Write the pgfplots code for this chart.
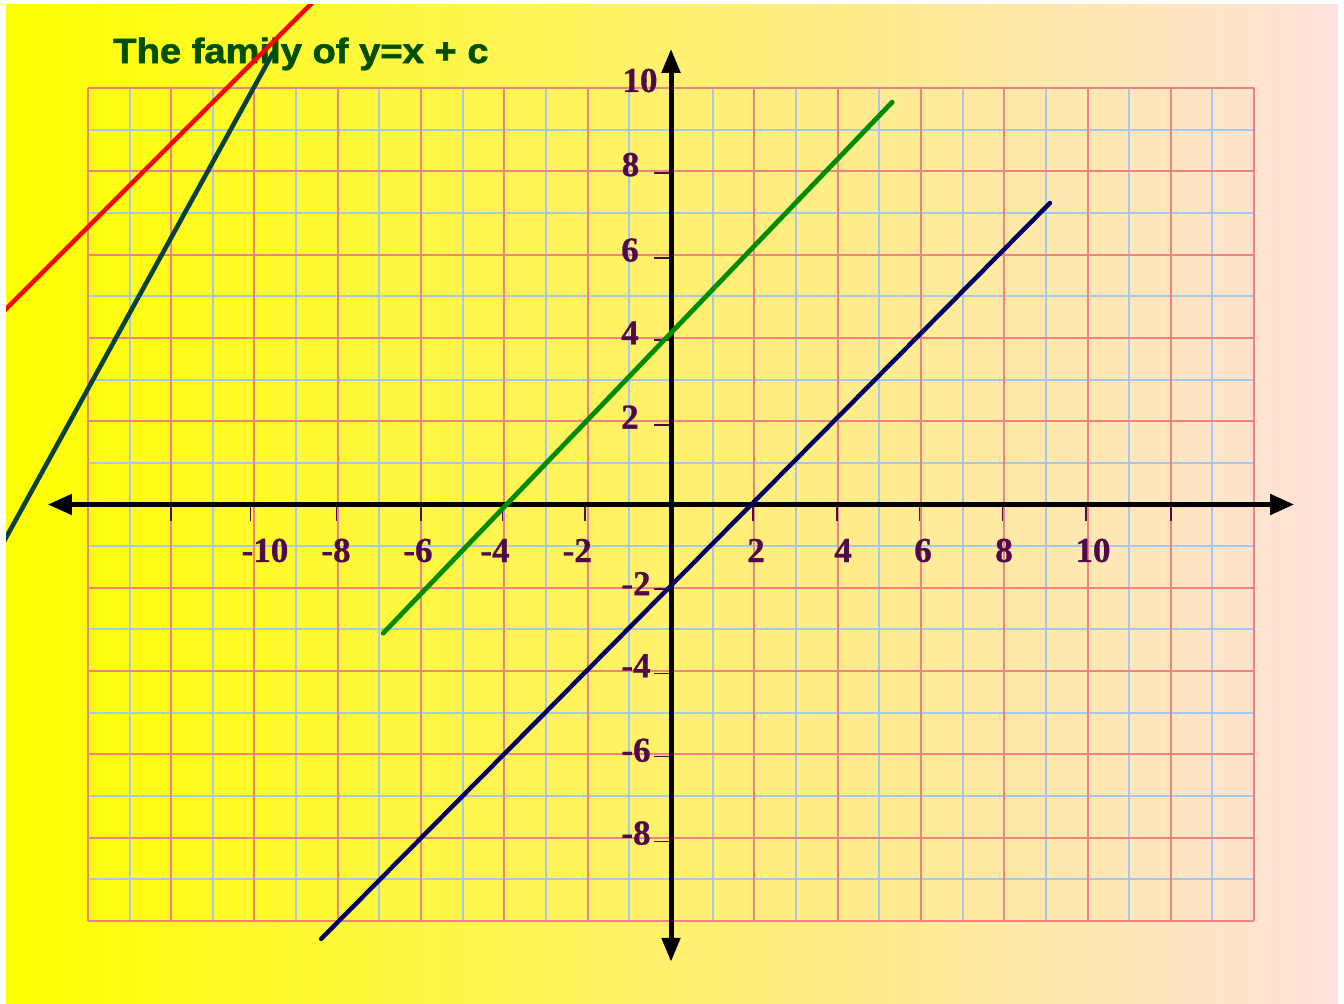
\documentclass[border=0pt]{standalone}
\usepackage{fontspec}
\setmainfont[BoldFeatures={FakeBold=0.8}]{Liberation Serif}
\newfontfamily\titlefont[BoldFeatures={FakeBold=1.6}]{Liberation Sans}
\usepackage{pgfplots}
\pgfplotsset{compat=1.18}
\usetikzlibrary{arrows.meta,calc}
\definecolor{bgL}{RGB}{255,255,0}
\definecolor{bgR}{RGB}{255,226,220}
\definecolor{gridpink}{RGB}{240,130,130}
\definecolor{gridblue}{RGB}{165,200,235}
\definecolor{lblpurple}{RGB}{80,10,75}
\definecolor{ttl}{RGB}{0,80,0}
\definecolor{lgreen}{RGB}{0,140,0}
\definecolor{lnavy}{RGB}{0,0,100}
\definecolor{lteal}{RGB}{10,65,60}
\tikzset{lbl/.style={text=lblpurple, font=\bfseries\fontsize{17.5}{20}\selectfont, inner sep=0pt, anchor=center}}
\begin{document}
\begin{tikzpicture}
\begin{axis}[scale only axis, width=666pt, height=499pt,
  xmin=-15.966, xmax=16.014, ymin=-11.969, ymax=11.993,
  axis lines=none, xtick=\empty, ytick=\empty, clip=true]
\fill[left color=bgL, right color=bgR] (rel axis cs:0,0) rectangle (rel axis cs:1,1);
\pgfplotsinvokeforeach{-13,-11,...,13}{\draw[gridblue, line width=1pt] (axis cs:#1,-10) -- (axis cs:#1,10);}
\pgfplotsinvokeforeach{-9,-7,...,9}{\draw[gridblue, line width=1pt] (axis cs:-14,#1) -- (axis cs:14,#1);}
\pgfplotsinvokeforeach{-14,-12,...,14}{\draw[gridpink, line width=1pt] (axis cs:#1,-10) -- (axis cs:#1,10);}
\pgfplotsinvokeforeach{-10,-8,...,10}{\draw[gridpink, line width=1pt] (axis cs:-14,#1) -- (axis cs:14,#1);}
% tick marks
\pgfplotsinvokeforeach{-12,-10.09,-8.03,-6,-4.04,-2.06,1.97,3.99,5.96,7.96,9.96,12}{\draw[lblpurple, line width=0.75pt] (axis cs:#1,-0.07) -- (axis cs:#1,-0.40);}
\pgfplotsinvokeforeach{7.96,5.92,3.95,1.91,-2.03,-4.05,-6.06,-8.1}{\draw[lblpurple, line width=0.6pt] (axis cs:-0.40,#1) -- (axis cs:-0.06,#1);}
% axes
\draw[line width=2.5pt, {Triangle[length=12pt,width=10pt]}-{Triangle[length=12pt,width=10pt]}] (axis cs:-14.96,0) -- (axis cs:14.96,0);
\draw[line width=2.5pt, {Triangle[length=12pt,width=9pt]}-{Triangle[length=12pt,width=9pt]}] (axis cs:0,-10.98) -- (axis cs:0,10.94);
% x labels
\node[lbl] at (axis cs:-9.748,-1.104) {-10};
\node[lbl] at (axis cs:-8.043,-1.104) {-8};
\node[lbl] at (axis cs:-6.075,-1.104) {-6};
\node[lbl] at (axis cs:-4.226,-1.104) {-4};
\node[lbl] at (axis cs:-2.250,-1.104) {-2};
\node[lbl] at (axis cs:2.041,-1.104) {2};
\node[lbl] at (axis cs:4.130,-1.104) {4};
\node[lbl] at (axis cs:6.051,-1.104) {6};
\node[lbl] at (axis cs:7.996,-1.104) {8};
\node[lbl] at (axis cs:10.132,-1.104) {10};
% y labels
\node[lbl] at (axis cs:-0.744,10.18) {10};
\node[lbl] at (axis cs:-0.972,8.16) {8};
\node[lbl] at (axis cs:-0.985,6.11) {6};
\node[lbl] at (axis cs:-0.985,4.12) {4};
\node[lbl] at (axis cs:-0.985,2.10) {2};
\node[lbl] at (axis cs:-0.84,-1.90) {-2};
\node[lbl] at (axis cs:-0.84,-3.87) {-4};
\node[lbl] at (axis cs:-0.84,-5.90) {-6};
\node[lbl] at (axis cs:-0.84,-7.89) {-8};
% lines
\addplot[lnavy, line width=2.2pt, line cap=round] coordinates {(-8.40,-10.43) (9.10,7.24)};
\addplot[lgreen, line width=2.4pt, line cap=round] coordinates {(-6.91,-3.09) (5.31,9.66)};
\addplot[lteal, line width=2.3pt, line cap=round] coordinates {(-16.1,-1.04) (-9.56,10.84)};
\node[anchor=base west, inner sep=0pt, text=ttl, font=\titlefont\bfseries\fontsize{17.5}{20}\selectfont] at (axis cs:-13.40,10.60) {\scalebox{1.09}[1]{The family of y=x + c}};
\addplot[red, line width=2.2pt, line cap=round] coordinates {(-16.1,4.56) (-8.5,12.16)};
\end{axis}
\path ($(current axis.south west)+(-3pt,0pt)$) rectangle ($(current axis.north east)+(3pt,2.5pt)$);
\end{tikzpicture}
\end{document}
